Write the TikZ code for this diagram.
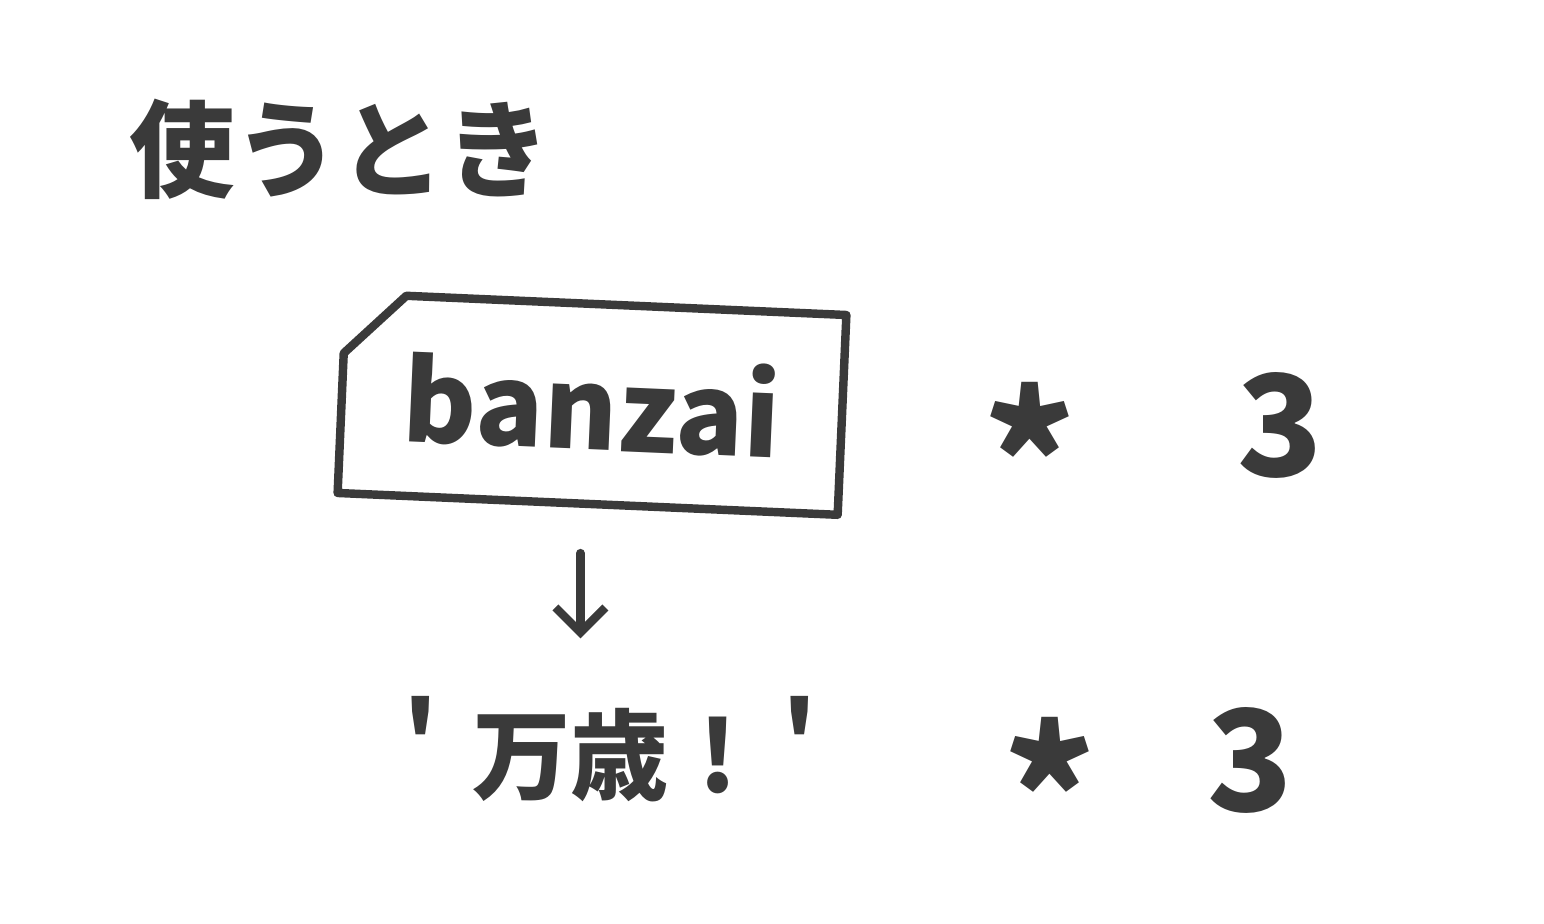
\documentclass[tikz,border=0pt]{standalone}
\usepackage{fontspec}
\newfontfamily\jpFont{Noto Sans CJK JP}
\usetikzlibrary{positioning, shapes.misc, arrows.meta}
\definecolor{inkColor}{RGB}{58,58,58}
\tikzstyle{inkStyle} = [color=inkColor, line width=2.4pt, line cap=round, line join=round]
\tikzstyle{inkText} = [text=inkColor, font=\jpFont\bfseries\fontsize{28}{32}\selectfont]
\tikzstyle{starText} = [text=inkColor, font=\jpFont\bfseries\fontsize{50}{56}\selectfont]
\tikzstyle{threeText} = [text=inkColor, font=\jpFont\bfseries\fontsize{40}{46}\selectfont]
\tikzstyle{tagStyle} = [inkStyle, draw, chamfered rectangle, chamfered rectangle corners=north west, chamfered rectangle xsep=0.5cm, minimum width=4.8cm, minimum height=2.0cm, rotate=-2.5]
\newcommand{\timesThree}[4]{
  \node [starText] (star#1) at (#2, #3) {*};
  \node [threeText] (three#1) at ([xshift=#4, yshift=0.29cm]star#1.center) {3};
}

\begin{document}
\begin{tikzpicture}
  \useasboundingbox (0,0) rectangle (15.44,9.24);
  \node [inkText, font=\jpFont\bfseries\fontsize{30}{34}\selectfont] (title) at (3.4, 7.75) {使うとき};

  \node [tagStyle, inkText, font=\jpFont\bfseries\fontsize{32}{36}\selectfont] (box) at (5.92, 5.2) {banzai};
  \timesThree{A}{10.3}{4.7}{2.5cm}

  \node [inkText] (banzaiString) at (6.1, 1.75) {\raisebox{0.2em}{\char39}\hspace{0.35em}万歳\hspace{0.3em}!\hspace{0.45em}\raisebox{0.2em}{\char39}};
  \timesThree{B}{10.5}{1.35}{2.0cm}

  \coordinate (arrowTop) at ([xshift=-0.07cm, yshift=-0.45cm]box.south);
  \draw [inkStyle, -{Straight Barb[length=2.5mm, width=5mm]}] (arrowTop) -- ([yshift=0.45cm]arrowTop |- banzaiString.north);
\end{tikzpicture}
\end{document}
